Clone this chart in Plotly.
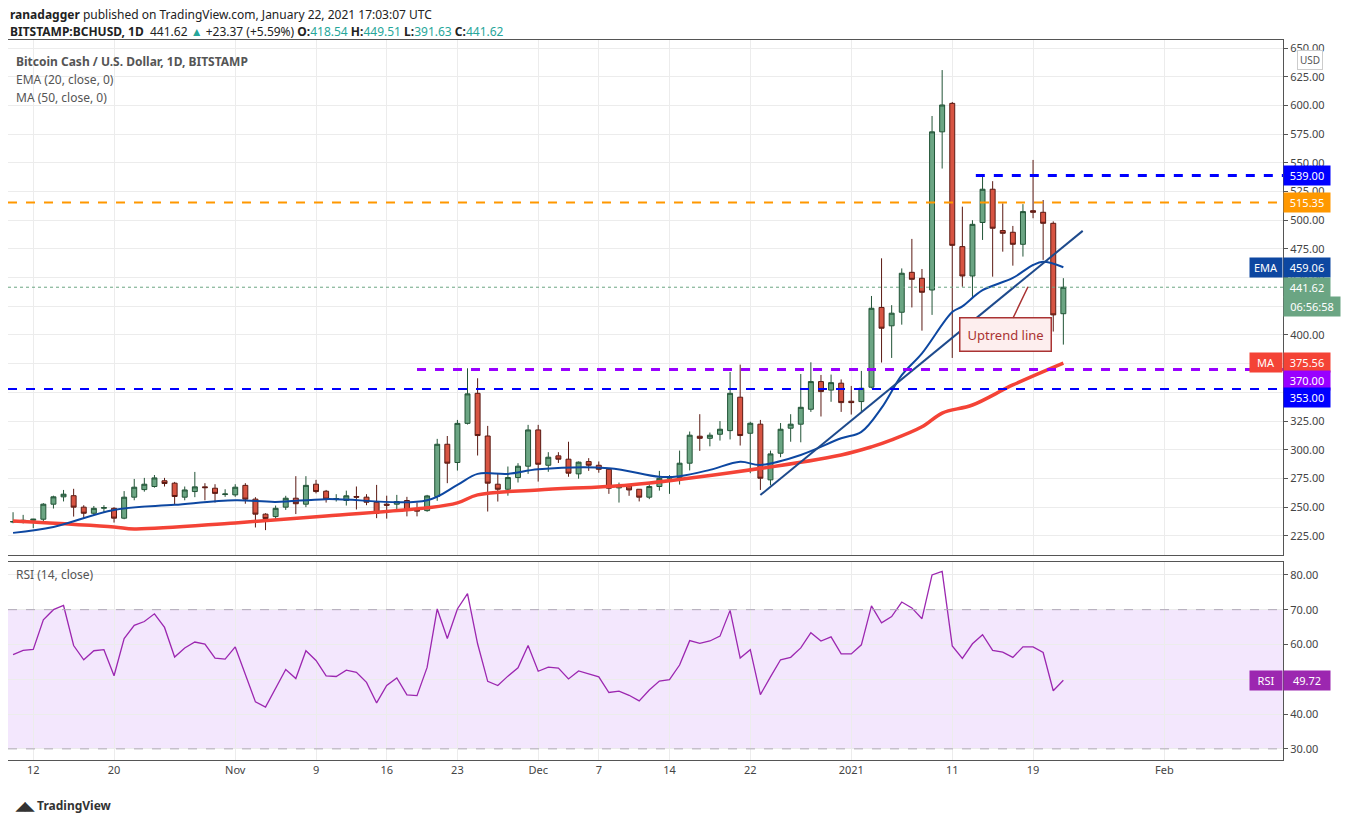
import pandas as pd
import plotly.graph_objects as go
from plotly.subplots import make_subplots

# daily candles, Oct 10 2020 .. Jan 22 2021
dates = pd.date_range('2020-10-10', '2021-01-22', freq='D')

opens = [237.0, 236.9, 238.6, 239.5, 252.6, 259.0, 260.0, 250.0, 244.7, 249.0, 249.0, 240.4, 258.7, 265.3, 268.0, 273.0, 270.9,
         258.7, 263.6, 267.7, 266.5, 261.0, 260.7, 269.0, 257.0, 243.9, 241.8, 250.0, 257.8, 252.6, 270.0, 263.9, 257.0, 255.8,
         259.3, 258.7, 254.3, 252.6, 252.6, 255.8, 248.2, 247.0, 259.3, 304.8, 288.9, 323.0, 349.2, 312.0, 270.0, 265.6, 275.8,
         285.7, 317.3, 286.5, 294.7, 291.8, 279.0, 289.7, 286.5, 283.0, 266.8, 268.5, 265.6, 258.7, 268.0, 275.2, 275.8,
         288.3, 311.8, 310.0, 313.5, 316.7, 345.8, 314.4, 322.3, 273.8, 297.0, 318.8, 322.3, 335.3, 359.4, 352.0, 358.0, 342.3,
         342.0, 354.5,
         424.0, 408.0, 419.8, 454.6, 449.4, 439.2, 577.0, 601.8, 477.0, 451.4, 498.0, 527.0, 491.0, 489.5, 479.0, 508.3, 506.9,
         497.3, 418.54]
highs = [245.6, 243.3, 239.8, 253.5, 260.0, 265.0, 266.0, 251.7, 251.0, 251.7, 250.0, 264.0, 274.6, 275.5, 278.0, 275.5, 272.0,
         268.0, 280.7, 270.9, 270.0, 265.6, 270.0, 270.9, 258.7, 244.7, 251.4, 259.9, 277.0, 277.0, 273.8, 265.0, 261.3, 264.4,
         268.0, 261.3, 269.4, 260.0, 260.7, 259.0, 254.0, 260.7, 309.5, 312.0, 326.0, 371.0, 362.3, 320.8, 279.6, 285.4, 288.3,
         321.7, 321.7, 297.9, 297.9, 307.0, 289.8, 292.7, 289.8, 284.0, 271.4, 270.0, 265.6, 270.0, 281.6, 277.9, 299.3,
         315.9, 331.0, 315.0, 325.0, 367.8, 374.2, 324.5, 326.0, 299.3, 323.3, 331.0, 366.0, 376.2, 365.2, 365.5, 361.3, 355.6,
         368.7, 434.0,
         466.8, 426.0, 458.0, 483.7, 457.5, 590.8, 630.8, 603.0, 511.8, 500.0, 538.5, 534.0, 514.7, 495.0, 514.0, 552.5, 517.6,
         499.0, 449.51]
lows = [236.0, 235.8, 231.7, 236.6, 248.8, 255.0, 241.8, 240.0, 243.0, 245.0, 236.6, 239.5, 256.0, 263.5, 267.0, 268.0, 252.6,
        256.0, 258.7, 256.0, 254.0, 259.0, 259.0, 253.0, 232.3, 230.0, 238.6, 247.6, 244.0, 250.0, 262.0, 254.0, 254.9, 251.4,
        248.0, 251.7, 240.4, 240.0, 248.0, 242.0, 242.0, 246.0, 255.5, 270.9, 281.9, 322.0, 295.0, 246.2, 254.9, 260.0, 271.5,
        279.0, 272.3, 280.8, 288.5, 276.5, 274.8, 281.6, 280.0, 261.6, 254.0, 259.9, 255.0, 257.0, 264.4, 261.6, 269.7,
        282.0, 299.0, 303.0, 308.0, 309.0, 303.7, 279.6, 265.0, 269.0, 293.5, 307.0, 306.5, 333.0, 329.0, 341.8, 333.0, 330.7,
        333.0, 353.6,
        376.0, 380.0, 409.0, 424.0, 403.8, 417.5, 545.0, 380.0, 442.0, 433.0, 482.8, 450.8, 472.6, 460.4, 468.3, 501.7, 465.4,
        403.0, 391.63]
closes = [237.5, 238.6, 239.5, 252.6, 259.0, 261.3, 250.0, 244.7, 249.0, 249.7, 240.4, 258.7, 267.4, 270.0, 275.5, 270.6, 259.3,
          265.0, 267.7, 267.0, 262.0, 261.5, 267.4, 257.0, 243.9, 240.0, 249.0, 257.8, 253.0, 269.0, 263.6, 257.0, 257.5, 259.9,
          258.7, 254.3, 244.7, 251.7, 254.9, 247.3, 246.5, 259.8, 304.8, 288.3, 323.0, 348.7, 312.4, 270.9, 265.6, 275.8, 285.7,
          317.3, 287.4, 293.5, 291.8, 279.6, 289.2, 286.5, 283.0, 266.5, 268.5, 265.0, 258.7, 268.0, 275.2, 276.7, 288.3,
          312.7, 310.0, 312.7, 317.9, 349.2, 312.4, 323.1, 275.2, 296.4, 317.9, 322.3, 337.0, 359.4, 350.7, 358.5, 341.1, 341.1,
          353.6, 423.3,
          405.9, 419.0, 453.8, 448.5, 437.2, 577.0, 600.4, 478.1, 451.4, 496.4, 527.0, 493.0, 488.6, 479.0, 507.5, 506.9, 497.3,
          417.5, 441.62]

rsi = [57.1, 58.3, 58.6, 67.1, 70.0, 71.2, 59.7, 55.6, 58.2, 58.5, 51.0, 61.7, 65.5, 66.6, 68.8, 64.9, 56.4, 59.0, 60.7, 60.1,
       56.1, 55.8, 59.3, 51.5, 43.5, 42.0, 47.5, 52.8, 50.2, 58.2, 55.4, 51.0, 50.8, 52.6, 52.0, 49.1, 43.2, 48.2, 50.4, 45.5,
       45.3, 53.4, 70.2, 61.7, 70.2, 74.6, 60.2, 49.4, 48.2, 50.9, 53.3, 59.7,
       52.3, 53.5, 53.2, 50.1, 52.4, 51.5, 50.7, 46.2, 46.6, 45.4, 43.8, 46.9, 49.5, 49.9, 54.1, 61.1, 60.3, 61.0, 62.4, 69.8,
       56.1, 58.5, 45.6, 50.7, 55.6, 56.3, 59.0, 63.4, 61.0, 62.2, 57.3, 57.3, 59.9, 71.1, 66.2, 68.0, 72.2, 70.5, 67.4, 80.0,
       81.0, 59.6, 56.0, 60.2, 62.8, 58.3, 57.8, 56.3, 59.3, 59.3, 57.7, 46.7, 49.72]

ema_dates = ['2020-10-10', '2020-10-14', '2020-10-20', '2020-10-26', '2020-11-01', '2020-11-05', '2020-11-10', '2020-11-20',
             '2020-11-23', '2020-11-25', '2020-11-28', '2020-12-01', '2020-12-08', '2020-12-13', '2020-12-15', '2020-12-18',
             '2020-12-21', '2020-12-23', '2020-12-27', '2020-12-31', '2021-01-02', '2021-01-04', '2021-01-06', '2021-01-08',
             '2021-01-11', '2021-01-12', '2021-01-14', '2021-01-17', '2021-01-19', '2021-01-20', '2021-01-22']
ema_vals = [227.6, 232.8, 247.6, 252.0, 256.0, 254.6, 257.0, 256.0, 269.4, 279.0, 279.0, 283.0, 284.0, 276.4, 277.0, 282.5,
            289.5, 286.8, 295.5, 310.0, 315.6, 336.5, 365.0, 384.0, 420.0, 425.0, 439.0, 449.7, 461.0, 463.7, 459.06]

ma_dates = ['2020-10-10', '2020-10-20', '2020-10-22', '2020-11-01', '2020-11-10', '2020-11-20', '2020-11-23', '2020-11-25',
            '2020-12-01', '2020-12-10', '2020-12-20', '2020-12-31', '2021-01-03', '2021-01-05', '2021-01-08', '2021-01-10',
            '2021-01-13', '2021-01-17', '2021-01-22']
ma_vals = [238.0, 232.8, 231.0, 236.3, 242.4, 249.4, 253.7, 260.7, 265.0, 269.4, 280.0, 295.5, 302.5, 308.6, 320.0, 332.0,
           339.0, 356.5, 375.56]

trend_dates = ['2020-12-23', '2021-01-23 22:00']
trend_vals = [260.6, 490.7]

tick_dates = ['2020-10-12', '2020-10-20', '2020-11-01', '2020-11-09', '2020-11-16', '2020-11-23', '2020-12-01', '2020-12-07',
              '2020-12-14', '2020-12-22', '2021-01-01', '2021-01-11', '2021-01-19', '2021-02-01']
tick_text = ['12', '20', 'Nov', '9', '16', '23', 'Dec', '7', '14', '22', '2021', '11', '19', 'Feb']

FONT = 'Noto Sans'
GRID = '#ececec'
X0, X1 = '2020-10-09 12:00', '2021-02-12 18:00'

fig = make_subplots(rows=2, cols=1, shared_xaxes=True, vertical_spacing=0.01, row_heights=[0.72, 0.28])

fig.add_trace(go.Candlestick(
    x=dates, open=opens, high=highs, low=lows, close=closes,
    increasing=dict(fillcolor='#6ba583', line=dict(color='#225437', width=1)),
    decreasing=dict(fillcolor='#d75442', line=dict(color='#5b1a13', width=1)),
    whiskerwidth=0, showlegend=False), row=1, col=1)

fig.add_trace(go.Scatter(x=ma_dates, y=ma_vals, mode='lines', line=dict(color='#f44336', width=3.5, shape='spline'),
                         showlegend=False), row=1, col=1)
fig.add_trace(go.Scatter(x=ema_dates, y=ema_vals, mode='lines', line=dict(color='#0d47a1', width=2, shape='spline'),
                         showlegend=False), row=1, col=1)
fig.add_trace(go.Scatter(x=trend_dates, y=trend_vals, mode='lines', line=dict(color='#1e4a8c', width=2),
                         showlegend=False), row=1, col=1)

fig.add_trace(go.Scatter(x=dates, y=rsi, mode='lines', line=dict(color='#9c27b0', width=1.3), showlegend=False),
              row=2, col=1)

# horizontal levels
levels = [(539.0, '2021-01-13 08:00', '#0000ff', 'dash', 3),
          (515.35, X0, '#ff9800', 'dash', 2),
          (370.0, '2020-11-19', '#9900ff', 'dash', 3),
          (353.0, X0, '#0000ff', 'dash', 2),
          (441.62, X0, '#6ba583', 'dot', 1)]
for y, x0, col, dash, w in levels:
    fig.add_shape(type='line', xref='x', yref='y', x0=x0, x1=X1, y0=y, y1=y,
                  line=dict(color=col, width=w, dash=dash))

fig.add_shape(type='rect', xref='x2', yref='y2', x0=X0, x1=X1, y0=30, y1=70,
              fillcolor='rgba(155,60,235,0.12)', line=dict(width=0), layer='below')
for y in [30, 70]:
    fig.add_shape(type='line', xref='x2', yref='y2', x0=X0, x1=X1, y0=y, y1=y,
                  line=dict(color='#b0a8b8', width=1, dash='dash'))

fig.update_xaxes(range=[X0, X1], tickvals=tick_dates, ticktext=tick_text, showgrid=True, gridcolor=GRID,
                 rangeslider_visible=False, showline=True, linecolor='#555', mirror=True,
                 tickfont=dict(family=FONT, size=11, color='#444'), ticks='')
fig.update_yaxes(side='right', showgrid=True, gridcolor=GRID, showline=True, linecolor='#555', mirror=True,
                 ticks='outside', ticklen=4, tickcolor='#555', tickfont=dict(family=FONT, size=11, color='#444'))
fig.update_yaxes(range=[208.5, 657], tickvals=list(range(225, 651, 25)),
                 ticktext=['%.2f' % v for v in range(225, 651, 25)], row=1, col=1)
fig.update_yaxes(range=[26.8, 83.7], tickvals=[30, 40, 50, 60, 70, 80],
                 ticktext=['30.00', '40.00', '50.00', '60.00', '70.00', '80.00'], row=2, col=1)

anns = []
def price_tag(y, text, bg, yref='y', tag=None, tagbg=None, shift=0):
    anns.append(dict(xref='paper', x=1, xanchor='left', yref=yref, y=y, yshift=shift, text=text, showarrow=False,
                     bgcolor=bg, font=dict(family=FONT, size=11, color='white'), borderpad=2, width=42, align='center'))
    if tag:
        anns.append(dict(xref='paper', x=1, xanchor='right', yref=yref, y=y, yshift=shift, text=tag, showarrow=False,
                         bgcolor=tagbg, font=dict(family=FONT, size=11, color='white'), borderpad=2, width=28))

price_tag(539.0, '539.00', '#0000ff')
price_tag(515.35, '515.35', '#ff9800')
price_tag(459.06, '459.06', '#0d47a1', tag='EMA', tagbg='#0d47a1')
price_tag(441.62, '441.62', '#6ba583')
anns.append(dict(xref='paper', x=1, xanchor='left', yref='y', y=441.62, yshift=-19, text='06:56:58', showarrow=False,
                 bgcolor='#6ba583', font=dict(family=FONT, size=11, color='white'), borderpad=2, width=52))
price_tag(375.56, '375.56', '#f44336', tag='MA', tagbg='#f44336', shift=1)
price_tag(370.0, '370.00', '#9900ff', shift=-11)
price_tag(353.0, '353.00', '#0000ff', shift=-9)
price_tag(49.72, '49.72', '#9c27b0', yref='y2', tag='RSI', tagbg='#9c27b0')

anns.append(dict(xref='paper', x=1.011, xanchor='left', yref='y', y=640, text='USD', showarrow=False,
                 font=dict(family=FONT, size=10, color='#555'), bordercolor='#ccc', borderwidth=1, borderpad=2,
                 bgcolor='white'))

# legend text in pane
for i, t in enumerate(['<b>Bitcoin Cash / U.S. Dollar, 1D, BITSTAMP</b>', 'EMA (20, close, 0)', 'MA (50, close, 0)']):
    anns.append(dict(xref='paper', yref='paper', x=0.005, y=0.985 - i * 0.025, xanchor='left', yanchor='top', text=t,
                     showarrow=False, font=dict(family=FONT, size=12, color='#555')))
anns.append(dict(xref='paper', yref='y2', x=0.005, y=80, xanchor='left', text='RSI (14, close)', showarrow=False,
                 font=dict(family=FONT, size=12, color='#555')))

# header
anns.append(dict(xref='paper', yref='paper', x=0.0, y=(760 - 15) / 720, xanchor='left', yanchor='middle', showarrow=False,
                 text='<b>ranadagger</b> published on TradingView.com, January 22, 2021 17:03:07 UTC',
                 font=dict(family=FONT, size=12, color='#222')))
teal = '#26a69a'
anns.append(dict(xref='paper', yref='paper', x=0.0, y=(760 - 31) / 720, xanchor='left', yanchor='middle', showarrow=False,
                 text=('<b>BITSTAMP:BCHUSD, 1D</b>  441.62 <span style="color:%s">▲</span> +23.37 (+5.59%%) '
                       '<b>O:</b><span style="color:%s">418.54</span> <b>H:</b><span style="color:%s">449.51</span> '
                       '<b>L:</b><span style="color:%s">391.63</span> <b>C:</b><span style="color:%s">441.62</span>')
                      % (teal, teal, teal, teal, teal),
                 font=dict(family=FONT, size=12, color='#222')))

anns.append(dict(xref='paper', yref='paper', x=0.004, y=(760 - 805) / 720, xanchor='left', yanchor='middle',
                 showarrow=False, text='<b>◢◣ TradingView</b>', font=dict(family=FONT, size=12, color='#333')))

# uptrend callout
anns.append(dict(xref='x', yref='y', x='2021-01-18 12:00', y=442, ax=-23, ay=48, text='Uptrend line',
                 showarrow=True, arrowhead=0, arrowwidth=1.5, arrowcolor='#a33', bordercolor='#a33', borderwidth=1.5,
                 borderpad=7, bgcolor='#fdeeee', font=dict(family=FONT, size=13, color='#a33')))

# page body has an 8px offset, margins account for it
fig.update_layout(
    width=1351, height=824, plot_bgcolor='white', paper_bgcolor='white',
    margin=dict(l=0, r=76, t=32, b=72), annotations=anns, showlegend=False,
)
fig.update_yaxes(domain=[0.285, 1], row=1, col=1)
fig.update_yaxes(domain=[0, 0.275], row=2, col=1)

fig.write_html('out.html')
